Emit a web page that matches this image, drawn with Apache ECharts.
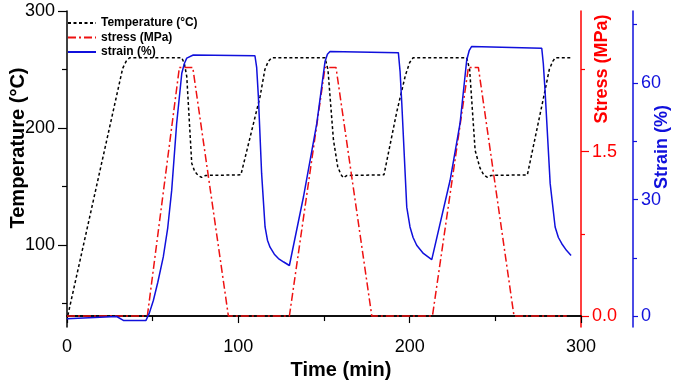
<!DOCTYPE html>
<html>
<head>
<meta charset="utf-8">
<script src="https://cdn.jsdelivr.net/npm/echarts@6/dist/echarts.min.js"></script>
<style>
  html, body { margin: 0; padding: 0; background: #fff; }
  #chart { width: 675px; height: 384px; }
</style>
</head>
<body>
<div id="chart"></div>
<script>
// values
const tempTime = [0.5, 32.5, 34.5, 36.5, 67, 68.5, 69.9, 72.8, 74.5, 76.5, 78.6, 81, 101.5, 112.7, 115.5, 117.5, 119.5, 150.6, 152.3, 155.5, 158, 159.8, 161.3, 163.5, 185, 192.5, 197.5, 200, 202, 233.3, 235, 238.2, 241, 243.2, 245.4, 247.5, 268.7, 278, 281.5, 283.5, 285, 294.6];
const tempValue = [40, 251, 257, 260, 260, 255, 244, 170, 163, 159.5, 157.8, 159.5, 160, 227, 250, 257, 260, 260, 250, 190, 167, 160.5, 157.5, 159.5, 160, 214, 245, 256, 260, 260, 250, 181, 166, 160, 157.8, 159.5, 160, 225, 250, 257, 260, 260];

const stressTime = [0, 46.9, 65.6, 73.4, 94.2, 129.8, 150.6, 157, 177.9, 213.3, 234.3, 240.1, 260.9, 291.7];
const stressValue = [0, 0, 2.27, 2.27, 0, 0, 2.27, 2.27, 0, 0, 2.27, 2.27, 0, 0];

const strainTime = [0, 29, 32.9, 46.1, 48, 50.4, 53, 56.2, 58.8, 61.1, 64, 67, 68.5, 69.9, 73.7, 109.7, 110.7, 111.7, 113.6, 115.6, 117, 118.5, 121, 123.4, 126.5, 129.8, 138, 145.8, 150.6, 152, 153.5, 193.4, 194.4, 195.4, 198.3, 200.2, 202, 204.1, 208, 212.9, 223.6, 229.4, 233.3, 234.8, 236.2, 277.1, 278, 279, 282, 284.9, 286.8, 288.8, 291.5, 294.2];
const strainValue = [-0.6, 0, -1.0, -1.0, 0.8, 4.1, 8.8, 15.3, 22.8, 32.4, 49.6, 62.5, 65, 66.4, 67.2, 67, 64, 56.5, 36.7, 23, 19.6, 17.8, 16, 14.9, 14, 13.1, 30.7, 49.6, 65.5, 67.4, 68.1, 67.8, 63, 54.8, 28.1, 23, 20.3, 18.3, 16.2, 14.6, 35, 49.6, 65.9, 68.4, 69.4, 68.9, 65, 58.2, 34.2, 23, 20.3, 18.7, 17, 15.7];

const tempTicks = [100, 200, 300];
const tempMinor = [50, 150, 250];
const stressTicks = [0, 1.5];
const stressMinor = [0.75, 2.25];
const strainTicks = [0, 30, 60];
const strainMinor = [15, 45, 75];

const RED = '#ff0000';
const BLUE = '#1010dc';
const FONT = 'Liberation Sans, Arial, sans-serif';

function pairs(xs, ys) {
  return xs.map((x, i) => [x, ys[i]]);
}

const chart = echarts.init(document.getElementById('chart'));

const option = {
  animation: false,
  textStyle: { fontFamily: FONT },
  grid: { left: 67, right: 94, top: 11, bottom: 57, containLabel: false, outerBoundsMode: 'none' },
  legend: {
    left: 67, top: 17, orient: 'vertical', padding: 0,
    itemWidth: 28, itemHeight: 10, itemGap: 2.5,
    itemStyle: { opacity: 0, borderWidth: 0 },
    textStyle: { fontFamily: FONT, fontSize: 12, fontWeight: 'bold', color: '#000' },
    data: ['Temperature (°C)', 'stress (MPa)', 'strain (%)']
  },
  xAxis: [
    {
      type: 'value', position: 'bottom', min: 0, max: 300, interval: 100,
      name: 'Time (min)', nameLocation: 'middle', nameGap: 33, nameMoveOverlap: false,
      nameTextStyle: { fontFamily: FONT, fontSize: 20, fontWeight: 'bold', color: '#000', padding: [0, 0, 0, 34] },
      axisLine: { lineStyle: { color: '#000', width: 1.5 } },
      axisTick: { show: true, length: 7, lineStyle: { color: '#000', width: 1.2 } },
      minorTick: { show: true, splitNumber: 2, length: 5, lineStyle: { color: '#000', width: 1.2 } },
      axisLabel: { fontSize: 18, color: '#000', margin: 11 },
      splitLine: { show: false }
    },
    {
      type: 'value', position: 'top', min: 0, max: 300,
      axisLine: { show: true, lineStyle: { color: '#000', width: 1.5 } },
      axisTick: { show: false }, axisLabel: { show: false }, splitLine: { show: false }
    }
  ],
  yAxis: [
    {
      type: 'value', position: 'left', min: 30, max: 300,
      name: 'Temperature (°C)', nameLocation: 'middle', nameGap: 39, nameMoveOverlap: false,
      nameTextStyle: { fontFamily: FONT, fontSize: 20, fontWeight: 'bold', color: '#000', padding: [0, 0, 0, 42] },
      axisLine: { show: true, lineStyle: { color: '#000', width: 1.5 } },
      axisTick: { show: true, length: 9, customValues: tempTicks, lineStyle: { color: '#000', width: 1.2 } },
      axisLabel: { fontSize: 18, color: '#000', margin: 12, customValues: tempTicks },
      splitLine: { show: false }
    },
    {
      type: 'value', position: 'left', min: 30, max: 300,
      axisLine: { show: false },
      axisTick: { show: true, length: 5, customValues: tempMinor, lineStyle: { color: '#000', width: 1.2 } },
      axisLabel: { show: false },
      splitLine: { show: false }
    },
    {
      type: 'value', position: 'right', offset: 0, min: -0.1, max: 2.785,
      name: 'Stress (MPa)', nameLocation: 'middle', nameGap: 12, nameMoveOverlap: false,
      nameTextStyle: { fontFamily: FONT, fontSize: 18, fontWeight: 'bold', color: RED, padding: [0, 0, 0, 200] },
      axisLine: { show: true, lineStyle: { color: RED, width: 1.5 } },
      axisTick: { show: true, length: 8, customValues: stressTicks, lineStyle: { color: RED, width: 1.2 } },
      axisLabel: { fontSize: 18, color: RED, margin: 11, customValues: stressTicks, formatter: v => v.toFixed(1) },
      splitLine: { show: false }
    },
    {
      type: 'value', position: 'right', offset: 0, min: -0.1, max: 2.785,
      axisLine: { show: false },
      axisTick: { show: true, length: 4, customValues: stressMinor, lineStyle: { color: RED, width: 1.2 } },
      axisLabel: { show: false },
      splitLine: { show: false }
    },
    {
      type: 'value', position: 'right', offset: 52, min: -2.7, max: 78.5,
      name: 'Strain (%)', nameLocation: 'middle', nameGap: 20, nameMoveOverlap: false,
      nameTextStyle: { fontFamily: FONT, fontSize: 18, fontWeight: 'bold', color: BLUE, padding: [0, 0, 0, 44] },
      axisLine: { show: true, lineStyle: { color: BLUE, width: 1.5 } },
      axisTick: { show: true, length: 5, customValues: strainTicks, lineStyle: { color: BLUE, width: 1.2 } },
      axisLabel: { fontSize: 18, color: BLUE, margin: 8, customValues: strainTicks },
      splitLine: { show: false }
    },
    {
      type: 'value', position: 'right', offset: 52, min: -2.7, max: 78.5,
      axisLine: { show: false },
      axisTick: { show: true, length: 4, customValues: strainMinor, lineStyle: { color: BLUE, width: 1.2 } },
      axisLabel: { show: false },
      splitLine: { show: false }
    }
  ],
  series: [
    {
      name: 'Temperature (°C)', type: 'line', xAxisIndex: 0, yAxisIndex: 0,
      symbol: 'none',
      lineStyle: { color: '#000', width: 1.5, type: [3, 2.5] },
      itemStyle: { color: '#000' },
      data: pairs(tempTime, tempValue)
    },
    {
      name: 'stress (MPa)', type: 'line', xAxisIndex: 0, yAxisIndex: 2,
      symbol: 'none',
      lineStyle: { color: '#ee1111', width: 1.5, type: [8, 3, 2, 3] },
      itemStyle: { color: '#ee1111' },
      data: pairs(stressTime, stressValue)
    },
    {
      name: 'strain (%)', type: 'line', xAxisIndex: 0, yAxisIndex: 4,
      symbol: 'none',
      lineStyle: { color: BLUE, width: 1.5 },
      itemStyle: { color: BLUE },
      data: pairs(strainTime, strainValue)
    }
  ]
};

chart.setOption(option);
</script>
</body>
</html>
